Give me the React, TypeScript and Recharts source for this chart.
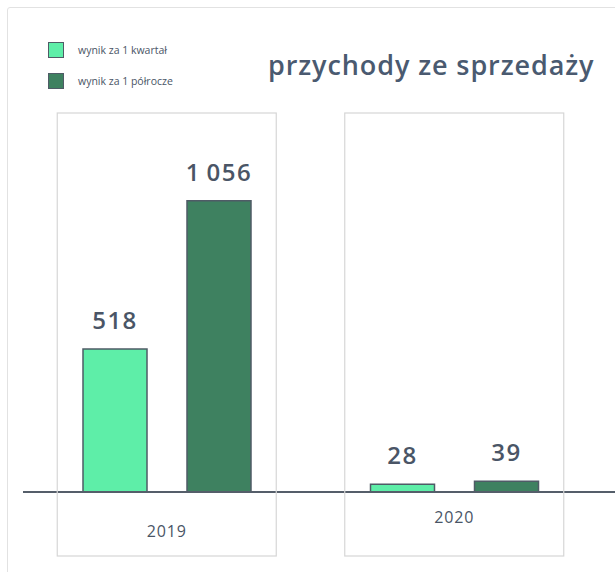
import React from "react";
import { BarChart, Bar, XAxis, YAxis, LabelList } from "recharts";

const years = ["2019", "2020"];
const quarter = [518, 28];
const halfYear = [1056, 39];

const data = years.map((year, i) => ({
  year,
  quarter: quarter[i],
  halfYear: halfYear[i],
}));

const LIGHT = "#5EEEA8";
const DARK = "#3E8160";
const STROKE = "#4F5B66";
const TEXT = "#4A5566";
const FONT = "'Open Sans', sans-serif";

const fmt = (v: any) => String(v).replace(/\B(?=(\d{3})+(?!\d))/g, "\u2009");

// label lift for the year ticks, first one sits lower in the original
const tickDy = [45, 31];

const YearTick = ({ x, payload, index }: any) => (
  <g>
    <rect
      x={x - 109.5}
      y={113}
      width={219}
      height={443}
      fill="none"
      stroke="#D6D6D6"
      strokeWidth={1.2}
    />
    <text
      x={x}
      y={492 + tickDy[index]}
      textAnchor="middle"
      fill={TEXT}
      fontSize={16}
      letterSpacing={0.8}
      fontFamily={FONT}
    >
      {payload.value}
    </text>
  </g>
);

const LegendBox = () => (
  <div style={{ fontFamily: FONT, fontSize: 10.5, color: TEXT }}>
    {[
      { c: LIGHT, t: "wynik za 1 kwartał" },
      { c: DARK, t: "wynik za 1 półrocze" },
    ].map((it) => (
      <div
        key={it.t}
        style={{ display: "flex", alignItems: "center", height: 31 }}
      >
        <span
          style={{
            width: 14,
            height: 14,
            background: it.c,
            border: `1.5px solid ${STROKE}`,
            marginRight: 14,
          }}
        />
        {it.t}
      </div>
    ))}
  </div>
);

const valueLabel = {
  position: "top" as const,
  offset: 20,
  formatter: fmt,
  fill: TEXT,
  fontSize: 24,
  fontWeight: 600,
  letterSpacing: 1.5,
  fontFamily: FONT,
};

export default function App() {
  return (
    <div
      style={{
        position: "absolute",
        left: 0,
        top: 0,
        width: 615,
        height: 572,
        overflow: "hidden",
        background: "#fff",
      }}
    >
      <div
        style={{
          position: "absolute",
          left: 7,
          top: 7,
          width: 640,
          height: 600,
          border: "1.5px solid #E2E2E2",
          borderRadius: 3,
        }}
      />
      <div style={{ position: "absolute", left: 48, top: 34 }}>
        <LegendBox />
      </div>
      <div
        style={{
          position: "absolute",
          left: 268,
          top: 46,
          fontFamily: FONT,
          fontSize: 27,
          fontWeight: 600,
          letterSpacing: 0.9,
          color: "#4A5A70",
          whiteSpace: "nowrap",
        }}
      >
        przychody ze sprzedaży
      </div>
      <BarChart
        width={615}
        height={572}
        data={data}
        margin={{ top: 161, right: 0, bottom: 0, left: 23 }}
        barSize={64}
        barGap={40}
        style={{ position: "absolute", left: 0, top: 0 }}
      >
        <XAxis
          dataKey="year"
          height={80}
          padding={{ left: 0, right: 17 }}
          axisLine={{ stroke: "#555E6A", strokeWidth: 2 }}
          tickLine={false}
          tick={<YearTick />}
          interval={0}
        />
        <YAxis hide domain={[0, 1200]} />
        <Bar
          dataKey="quarter"
          fill={LIGHT}
          stroke={STROKE}
          strokeWidth={1.5}
          isAnimationActive={false}
        >
          <LabelList dataKey="quarter" {...valueLabel} />
        </Bar>
        <Bar
          dataKey="halfYear"
          fill={DARK}
          stroke={STROKE}
          strokeWidth={1.5}
          isAnimationActive={false}
        >
          <LabelList dataKey="halfYear" {...valueLabel} />
        </Bar>
      </BarChart>
    </div>
  );
}
